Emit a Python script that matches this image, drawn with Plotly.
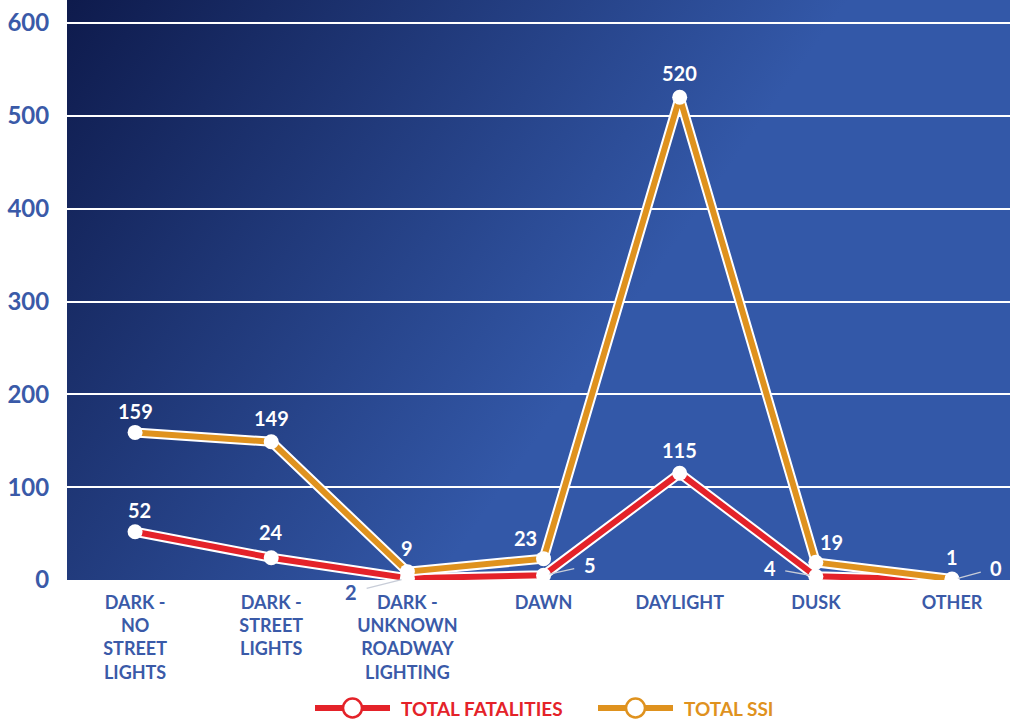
import base64
import plotly.graph_objects as go

categories = ["DARK -<br>NO<br>STREET<br>LIGHTS", "DARK -<br>STREET<br>LIGHTS",
              "DARK -<br>UNKNOWN<br>ROADWAY<br>LIGHTING", "DAWN", "DAYLIGHT", "DUSK", "OTHER"]
fatalities = [52, 24, 2, 5, 115, 4, 0]
ssi = [159, 149, 9, 23, 520, 19, 1]
y_ticks = [0, 100, 200, 300, 400, 500, 600]
series_names = ["TOTAL FATALITIES", "TOTAL SSI"]

RED = "#e42229"
ORANGE = "#df921e"
TICK = "#3a5aa8"
FONT = "Lato"

# label offsets (px): (dx, dy, leader line?)
fat_off = [(4, -22, False), (0, -26, False), (-56, 14, True), (46, -10, True),
           (0, -23, False), (-46, -8, True), (44, -12, True)]
ssi_off = [(0, -21, False), (0, -24, False), (0, -24, False), (-18, -21, False),
           (0, -24, False), (16, -20, False), (0, -22, False)]

svg = """<svg xmlns='http://www.w3.org/2000/svg' width='943' height='580' preserveAspectRatio='none'>
<defs><linearGradient id='g' gradientUnits='userSpaceOnUse' x1='-30' y1='-20' x2='520' y2='369'>
<stop offset='0' stop-color='#0c1747'/><stop offset='1' stop-color='#3358a8'/>
</linearGradient></defs><rect width='943' height='580' fill='url(#g)'/></svg>"""
bg = "data:image/svg+xml;base64," + base64.b64encode(svg.encode()).decode()

fig = go.Figure()
x = list(range(len(categories)))

for vals, col in [(fatalities, RED), (ssi, ORANGE)]:
    fig.add_trace(go.Scatter(x=x, y=vals, mode="lines", showlegend=False, hoverinfo="skip",
                             line=dict(color="white", width=10)))
    fig.add_trace(go.Scatter(x=x, y=vals, mode="lines", showlegend=False,
                             line=dict(color=col, width=6)))

for vals in [fatalities, ssi]:
    fig.add_trace(go.Scatter(x=x, y=vals, mode="markers", showlegend=False, hoverinfo="skip",
                             marker=dict(size=15, color="white")))

for vals, offs in [(fatalities, fat_off), (ssi, ssi_off)]:
    for i, v in enumerate(vals):
        dx, dy, lead = offs[i]
        if lead:
            fig.add_annotation(x=i, y=v, text=str(v), showarrow=True, arrowhead=0,
                               arrowcolor="#c8cdd8", arrowwidth=1.3, ax=dx, ay=dy, standoff=6,
                               startstandoff=8,
                               font=dict(family=FONT, size=20, color="white" if dy < 0 else TICK,
                                         weight="bold"))
        else:
            fig.add_annotation(x=i, y=v, text=str(v), showarrow=False, xshift=dx, yshift=-dy,
                               font=dict(family=FONT, size=20, color="white", weight="bold"))

# legend drawn by hand (long line + open circle)
def px_x(p):
    return (p - 67) / 943

def px_y(p):
    return (580 - p) / 580

for name, col, x0 in [(series_names[0], RED, 315), (series_names[1], ORANGE, 598)]:
    fig.add_shape(type="line", xref="paper", yref="paper", x0=px_x(x0), x1=px_x(x0 + 75),
                  y0=px_y(708), y1=px_y(708), line=dict(color=col, width=6))
    fig.add_shape(type="circle", xref="paper", yref="paper", x0=px_x(x0 + 28), x1=px_x(x0 + 47),
                  y0=px_y(717.5), y1=px_y(698.5), fillcolor="white", line=dict(color=col, width=2.5))
    fig.add_annotation(xref="paper", yref="paper", x=px_x(x0 + 84), y=px_y(708), text=name,
                       showarrow=False, xanchor="left", yanchor="middle",
                       font=dict(family=FONT, size=19, color=col, weight="bold"))

fig.add_layout_image(source=bg, xref="paper", yref="paper", x=0, y=1, sizex=1, sizey=1,
                     xanchor="left", yanchor="top", sizing="stretch", layer="below")

# plot runs off the right edge in the original, so the last half-band is cut
fig.update_xaxes(range=[-0.5, 6.426], tickvals=x, ticktext=categories, showgrid=False,
                 zeroline=False, showline=False, ticks="outside", ticklen=6,
                 tickcolor="rgba(0,0,0,0)",
                 tickfont=dict(family=FONT, size=18, color=TICK, weight="bold"))
fig.update_yaxes(range=[0, 624.8], tickvals=y_ticks, showgrid=True, gridcolor="white",
                 gridwidth=1.5, zeroline=False, showline=False, ticks="outside",
                 ticklen=12, tickcolor="rgba(0,0,0,0)",
                 tickfont=dict(family=FONT, size=24, color=TICK, weight="bold"))

fig.update_layout(
    width=1010, height=719,
    margin=dict(l=67, r=0, t=0, b=139),
    paper_bgcolor="white", plot_bgcolor="rgba(0,0,0,0)",
    showlegend=False,
)

fig.write_html("out.html", config={"displayModeBar": False},
               post_script="document.body.style.margin='0';")
